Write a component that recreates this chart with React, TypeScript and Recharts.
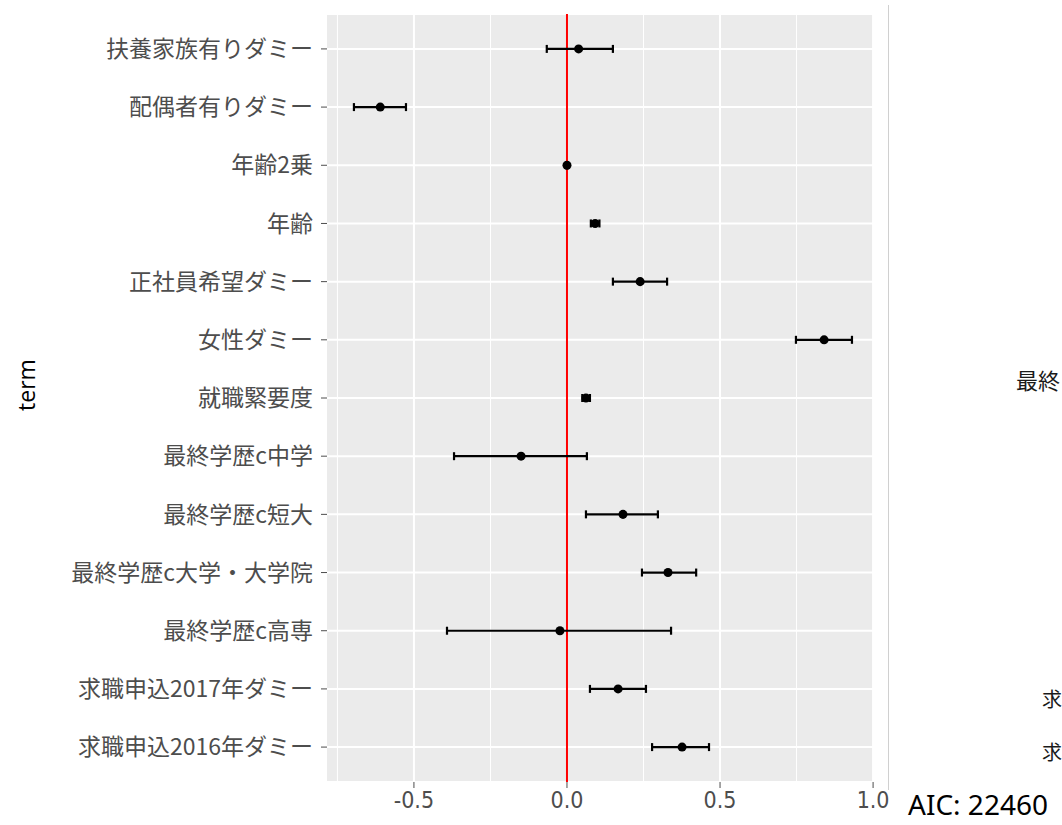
import React from 'react';
import { ScatterChart, Scatter, XAxis, YAxis, ZAxis, CartesianGrid, ReferenceLine, ErrorBar } from 'recharts';

const terms = [
  '扶養家族有りダミー',
  '配偶者有りダミー',
  '年齢2乗',
  '年齢',
  '正社員希望ダミー',
  '女性ダミー',
  '就職緊要度',
  '最終学歴c中学',
  '最終学歴c短大',
  '最終学歴c大学・大学院',
  '最終学歴c高専',
  '求職申込2017年ダミー',
  '求職申込2016年ダミー',
];
const estimates = [0.038, -0.610, 0.0, 0.092, 0.239, 0.840, 0.062, -0.150, 0.183, 0.330, -0.023, 0.167, 0.376];
const lower = [-0.066, -0.696, -0.003, 0.078, 0.150, 0.748, 0.050, -0.369, 0.062, 0.245, -0.392, 0.075, 0.278];
const upper = [0.150, -0.526, 0.003, 0.106, 0.327, 0.931, 0.075, 0.065, 0.297, 0.422, 0.340, 0.258, 0.464];

const xTicks = [-0.5, 0, 0.5, 1.0];
const xMinor = [-0.75, -0.25, 0.25, 0.75];
const yTitle = 'term';
const aicText = 'AIC: 22460';
const rightFragments = ['最終', '求', '求'];

const data = terms.map((t, i) => ({
  idx: i,
  term: t,
  est: estimates[i],
  err: [estimates[i] - lower[i], upper[i] - estimates[i]],
}));

const yIdx = terms.map((_, i) => i);

export default function App() {
  return (
    <div style={{ position: 'fixed', left: 0, top: 0, width: 1062, height: 825, overflow: 'hidden', background: '#fff' }}>
      <ScatterChart width={1062} height={825} margin={{ top: 14, right: 188, bottom: 0, left: 0 }}>
        <CartesianGrid vertical={false} fill="#ebebeb" stroke="#ffffff" strokeWidth={2} />
        {xMinor.map((v) => (
          <ReferenceLine key={'mi' + v} x={v} stroke="#ffffff" strokeWidth={1} />
        ))}
        {xTicks.map((v) => (
          <ReferenceLine key={'ma' + v} x={v} stroke="#ffffff" strokeWidth={2} />
        ))}
        <XAxis
          type="number"
          dataKey="est"
          domain={[-0.784, 1.003]}
          ticks={xTicks}
          allowDataOverflow
          tickFormatter={(v: number) => v.toFixed(1)}
          axisLine={false}
          tickLine={{ stroke: '#4d4d4d' }}
          tickSize={6}
          tickMargin={4}
          height={43}
          tick={{ fill: '#4d4d4d', fontSize: 23, fontFamily: '"Liberation Sans Narrow", "DejaVu Sans Condensed", sans-serif' }}
        />
        <YAxis
          type="number"
          dataKey="idx"
          domain={[-0.6, 12.6]}
          reversed
          ticks={yIdx}
          interval={0}
          tickFormatter={(i: number) => terms[i]}
          axisLine={false}
          tickLine={{ stroke: '#4d4d4d' }}
          tickSize={6}
          tickMargin={8}
          width={327}
          tick={{ fill: '#4d4d4d', fontSize: 23, fontFamily: '"Noto Sans CJK JP", sans-serif' }}
        />
        <ZAxis range={[100, 100]} />
        <ReferenceLine x={0} stroke="#ff0000" strokeWidth={2} />
        <Scatter data={data} fill="#000000" isAnimationActive={false}>
          <ErrorBar dataKey="err" direction="x" width={4} stroke="#000000" strokeWidth={2.2} isAnimationActive={false} />
        </Scatter>
      </ScatterChart>
      <div
        style={{
          position: 'absolute',
          left: 26,
          top: 385,
          transform: 'translate(-50%, -50%) rotate(-90deg)',
          fontFamily: '"Open Sans", "Noto Sans", sans-serif',
          fontSize: 23,
          color: '#000',
          whiteSpace: 'nowrap',
          lineHeight: '23px',
        }}
      >
        {yTitle}
      </div>
      <div style={{ position: 'absolute', left: 888, top: 5, width: 1, height: 785, background: '#d0d0d0' }} />
      <div
        style={{
          position: 'absolute',
          left: 908,
          top: 790,
          fontFamily: '"Noto Sans", "Open Sans", sans-serif',
          fontSize: 28,
          lineHeight: '28px',
          color: '#000',
          whiteSpace: 'nowrap',
        }}
      >
        {aicText}
      </div>
      {rightFragments.map((t, i) => (
        <div
          key={i}
          style={{
            position: 'absolute',
            left: i === 0 ? 1016 : 1042,
            top: [368, 689, 742][i],
            fontFamily: '"Noto Sans CJK JP", sans-serif',
            fontSize: i === 0 ? 22 : 20,
            lineHeight: i === 0 ? '22px' : '20px',
            color: '#1a1a1a',
            whiteSpace: 'nowrap',
          }}
        >
          {t}
        </div>
      ))}
    </div>
  );
}
